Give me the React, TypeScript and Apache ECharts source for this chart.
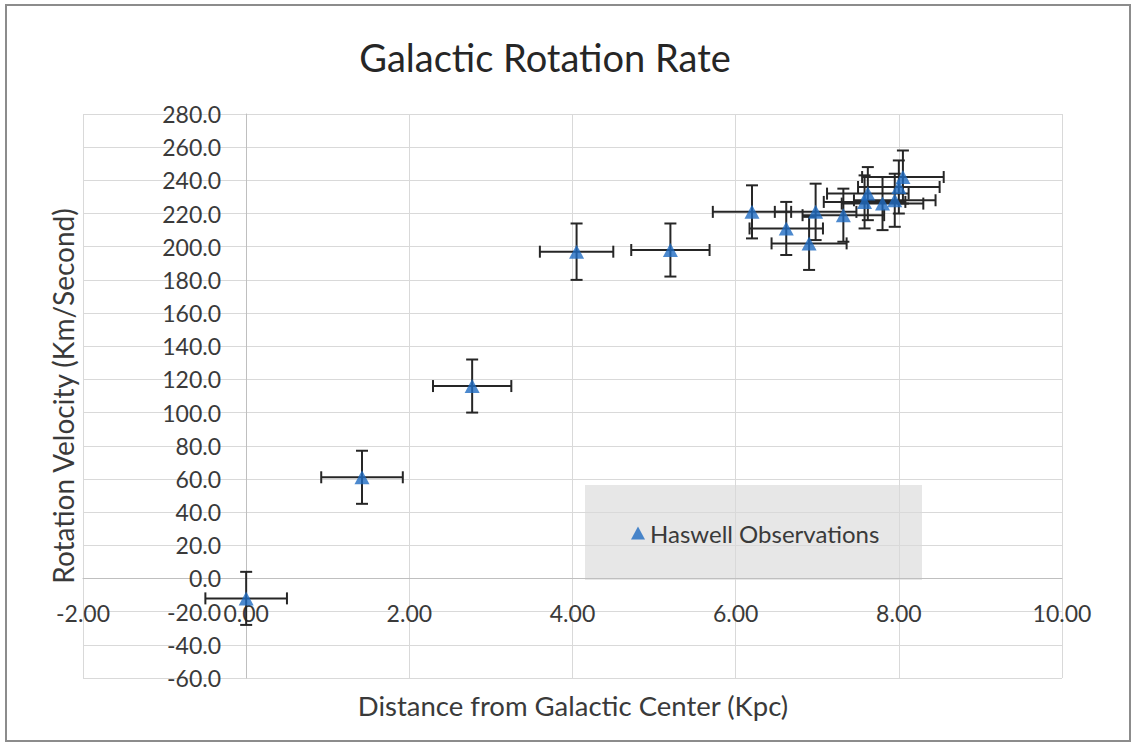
import React, { useEffect, useRef } from "react";
import * as echarts from "echarts";

const distanceKpc = [0.0, 1.42, 2.77, 4.05, 5.2, 6.2, 6.62, 6.98, 6.9, 7.32, 7.58, 7.62, 7.8, 7.95, 8.0, 8.05];
const velocityKms = [-12, 61, 116, 197, 198, 221, 211, 221, 202, 219, 227, 232, 226, 228, 236, 242];
const distanceErr = [0.5, 0.5, 0.48, 0.45, 0.48, 0.48, 0.45, 0.5, 0.46, 0.5, 0.5, 0.5, 0.5, 0.5, 0.5, 0.5];
const velocityErr = [16, 16, 16, 17, 16, 16, 16, 17, 16, 16, 16, 16, 16, 16, 16, 16];

const seriesName = "Haswell Observations";
const chartTitle = "Galactic Rotation Rate";
const xTitle = "Distance from Galactic Center (Kpc)";
const yTitle = "Rotation Velocity (Km/Second)";

const FONT = "Lato, 'Open Sans', sans-serif";

export default function App() {
  const ref = useRef<HTMLDivElement>(null);
  useEffect(() => {
    document.body.style.margin = "0";
    if (!ref.current) return;
    const chart = echarts.init(ref.current, undefined, { renderer: "svg" });
    const points = distanceKpc.map((x, i) => [x, velocityKms[i]]);
    const errData = distanceKpc.map((x, i) => [x, velocityKms[i], distanceErr[i], velocityErr[i]]);
    const barColor = "#262626";
    const cap = 6;
    chart.setOption({
      animation: false,
      backgroundColor: "#ffffff",
      title: {
        text: chartTitle,
        left: 540,
        top: 33,
        textAlign: "center",
        textStyle: { fontFamily: FONT, fontSize: 38, fontWeight: "normal", color: "#262626" },
      },
      grid: { left: 83, right: 73, top: 114, bottom: 68, containLabel: false },
      xAxis: {
        type: "value",
        min: -2,
        max: 10,
        interval: 2,
        axisLine: { onZero: true, lineStyle: { color: "#bfbfbf", width: 1 } },
        axisTick: { show: false },
        axisLabel: {
          margin: -77,
          fontFamily: FONT,
          fontSize: 23,
          color: "#3a3a3a",
          formatter: (v: number) => v.toFixed(2),
        },
        splitLine: { show: true, lineStyle: { color: "#d9d9d9", width: 1 } },
      },
      yAxis: {
        type: "value",
        min: -60,
        max: 280,
        interval: 20,
        axisLine: { show: true, onZero: true, lineStyle: { color: "#bfbfbf", width: 1 } },
        axisTick: { show: false },
        axisLabel: {
          margin: -138,
          fontFamily: FONT,
          fontSize: 23,
          color: "#3a3a3a",
          formatter: (v: number) => v.toFixed(1),
        },
        splitLine: { show: true, lineStyle: { color: "#d9d9d9", width: 1 } },
      },
      legend: {
        data: [{ name: seriesName, icon: "triangle" }],
        left: 626,
        top: 516,
        itemWidth: 14,
        itemHeight: 13,
        itemGap: 4,
        textStyle: { fontFamily: FONT, fontSize: 24, color: "#3a3a3a" },
      },
      graphic: [
        {
          type: "rect",
          z: -1,
          shape: { x: 6, y: 5, width: 1124, height: 736 },
          style: { fill: "none", stroke: "#8c8c8c", lineWidth: 2 },
        },
        {
          type: "rect",
          z: 0,
          zlevel: 0,
          shape: { x: 585, y: 485, width: 337, height: 95 },
          style: { fill: "#e7e7e7", stroke: "none" },
        },
        {
          type: "text",
          x: 573,
          y: 705,
          style: {
            text: xTitle,
            fontFamily: FONT,
            fontSize: 27.5,
            fill: "#3a3a3a",
            textAlign: "center",
            textVerticalAlign: "middle",
          },
        },
        {
          type: "text",
          x: 63,
          y: 396,
          rotation: Math.PI / 2,
          style: {
            text: yTitle,
            fontFamily: FONT,
            fontSize: 28,
            fill: "#3a3a3a",
            textAlign: "center",
            textVerticalAlign: "middle",
          },
        },
      ],
      series: [
        {
          type: "custom",
          name: "errors",
          silent: true,
          data: errData,
          encode: { x: 0, y: 1 },
          z: 3,
          renderItem: (params: any, api: any) => {
            const x = api.value(0);
            const y = api.value(1);
            const ex = api.value(2);
            const ey = api.value(3);
            const l = api.coord([x - ex, y]);
            const r = api.coord([x + ex, y]);
            const t = api.coord([x, y + ey]);
            const b = api.coord([x, y - ey]);
            const st = { stroke: barColor, lineWidth: 2 };
            return {
              type: "group",
              children: [
                { type: "line", shape: { x1: l[0], y1: l[1], x2: r[0], y2: r[1] }, style: st },
                { type: "line", shape: { x1: l[0], y1: l[1] - cap, x2: l[0], y2: l[1] + cap }, style: st },
                { type: "line", shape: { x1: r[0], y1: r[1] - cap, x2: r[0], y2: r[1] + cap }, style: st },
                { type: "line", shape: { x1: t[0], y1: t[1], x2: b[0], y2: b[1] }, style: st },
                { type: "line", shape: { x1: t[0] - cap, y1: t[1], x2: t[0] + cap, y2: t[1] }, style: st },
                { type: "line", shape: { x1: b[0] - cap, y1: b[1], x2: b[0] + cap, y2: b[1] }, style: st },
              ],
            };
          },
        },
        {
          type: "scatter",
          name: seriesName,
          data: points,
          symbol: "triangle",
          symbolSize: [15, 14],
          z: 4,
          itemStyle: { color: "#1f6cc2" },
        },
      ],
    });
    return () => chart.dispose();
  }, []);
  return <div ref={ref} style={{ width: 1135, height: 746 }} />;
}
